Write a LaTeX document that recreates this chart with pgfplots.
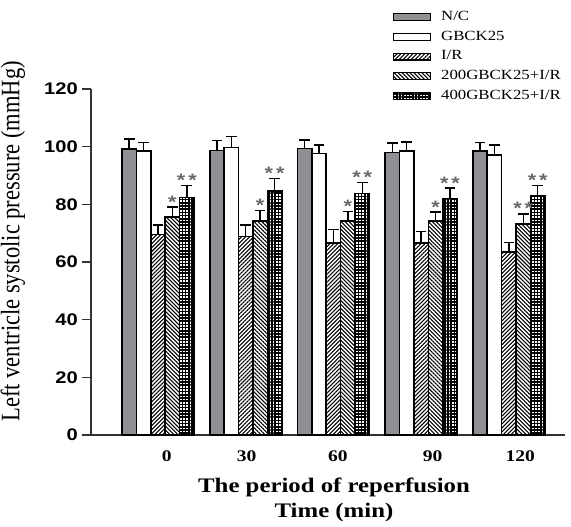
\documentclass[border=0pt]{standalone}
\usepackage{fontspec}
\setmainfont{Liberation Serif}[FakeStretch=1.2]
\newfontfamily\ticksans{Liberation Sans}[FakeStretch=1.2]
\newfontfamily\ylfont{Liberation Serif}[FakeStretch=0.845]
\usepackage{pgfplots}
\pgfplotsset{compat=1.18}
\usetikzlibrary{patterns.meta}

\definecolor{ncgray}{RGB}{143,143,148}
\definecolor{stargray}{RGB}{105,105,105}

% x y err
\pgfplotstableread{
x y err
0 99.2 3.4
1 98.7 3.4
2 99.4 2.9
3 98.0 3.2
4 98.6 2.9
}\nc
\pgfplotstableread{
x y err
0 98.5 3.0
1 99.7 3.8
2 97.6 2.9
3 98.4 3.2
4 97.1 3.4
}\gb
\pgfplotstableread{
x y err
0 69.6 3.2
1 68.8 4.0
2 66.5 4.8
3 66.5 4.0
4 63.4 3.4
}\ir
\pgfplotstableread{
x y err
0 75.7 3.3
1 74.2 3.6
2 74.3 3.3
3 74.2 3.1
4 73.2 3.5
}\gtwo
\pgfplotstableread{
x y err
0 82.4 4.1
1 84.6 4.4
2 83.8 3.8
3 82.0 3.6
4 82.8 3.7
}\gfour

\begin{document}
\begin{tikzpicture}
\path[use as bounding box] (-68.25pt,-68.25pt) rectangle (360pt,326.25pt);
\begin{axis}[
  scale only axis,
  width=355.5pt, height=259.5pt,
  at={(0,0)}, anchor=south west,
  ybar=0pt, bar width=10.8pt,
  xmin=-0.764, xmax=4.64,
  ymin=0, ymax=120,
  axis x line=bottom, axis y line=left,
  axis line style={-, line width=0.8pt, black!80},
  ytick={0,20,...,120},
  xtick={0.10,1.01,2.05,3.13,4.13},
  xticklabels={0,30,60,90,120},
  xtick style={draw=none},
  ytick style={line width=0.8pt, black!80},
  tick align=outside,
  major tick length=6.75pt,
  /pgf/number format/assume math mode=true,
  yticklabel style={font=\ticksans\bfseries\fontsize{12.6}{14}\selectfont, anchor=east, inner sep=0pt, xshift=-3pt},
  xticklabel style={font=\bfseries\fontsize{12.2}{14}\selectfont, anchor=base, inner sep=0pt, yshift=-13.1pt},
  xlabel={The period of reperfusion\\Time (min)},
  xlabel style={font=\bfseries\fontsize{15.5}{19}\selectfont, align=center,
    at={(rel axis cs:0.5,0)}, anchor=north, inner sep=0pt, yshift=-32pt, xshift=4.5pt},
  ylabel={Left ventricle systolic pressure (mmHg)},
  ylabel style={font=\ylfont\fontsize{20}{22}\selectfont,
    at={(rel axis cs:-0.1646,0.56)}, anchor=center, inner sep=0pt},
  error bars/y dir=plus, error bars/y explicit,
  error bars/error bar style={line width=1.1pt, black},
  error bars/error mark options={rotate=90, line width=1.1pt, black, mark size=4pt},
  legend image code/.code={\draw[#1, line width=0.9pt] (0pt,-2.6pt) rectangle (27.75pt,2.6pt);},
  legend style={draw=none, fill=none, inner sep=0pt, outer sep=0pt,
    at={(rel axis cs:0.637,1.227)}, anchor=north west,
    row sep=4.8pt, font=\fontsize{10.5}{12}\selectfont,
    nodes={inner sep=0pt, text height=7.5pt, text depth=2.5pt}},
  legend cell align=left,
  /tikz/every odd column/.append style={column sep=7.5pt},
  clip=false,
]
\addplot[bar shift=-21.6pt, draw=black, line width=1.2pt, fill=ncgray]
  table[x=x, y=y, y error=err] {\nc};
\addlegendentry{N/C}
\addplot[bar shift=-10.8pt, draw=black, line width=1.2pt, fill=white]
  table[x=x, y=y, y error=err] {\gb};
\addlegendentry{GBCK25}
\addplot[bar shift=0pt, draw=black, line width=1.2pt,
  pattern={Lines[angle=45, distance=2.1pt, line width=0.8pt]}]
  table[x=x, y=y, y error=err] {\ir};
\addlegendentry{I/R}
\addplot[bar shift=10.8pt, draw=black, line width=1.2pt,
  pattern={Lines[angle=-45, distance=2.1pt, line width=0.8pt]}]
  table[x=x, y=y, y error=err] {\gtwo};
\addlegendentry{200GBCK25+I/R}
\addplot[bar shift=21.6pt, draw=black, line width=1.2pt,
  pattern={Hatch[angle=0, distance=2.4pt, line width=1.1pt]}]
  table[x=x, y=y, y error=err] {\gfour};
\addlegendentry{400GBCK25+I/R}

% significance marks, placed at the top of the error bars
\addplot[forget plot, bar shift=10.8pt, draw=none, fill=none,
  nodes near coords, point meta=explicit symbolic,
  every node near coord/.append style={anchor=base, yshift=-0.75pt, inner sep=0pt,
    text=stargray, font=\ticksans\bfseries\fontsize{13.5}{14}\selectfont}]
  table[x=x, y=y, meta=s] {
x y s
0 79.0 *
1 77.8 *
2 77.6 *
3 77.3 *
4 76.7 *\,*
};
\addplot[forget plot, bar shift=21.6pt, draw=none, fill=none,
  nodes near coords, point meta=explicit symbolic,
  every node near coord/.append style={anchor=base, yshift=-0.75pt, inner sep=0pt,
    text=stargray, font=\ticksans\bfseries\fontsize{13.5}{14}\selectfont}]
  table[x=x, y=y, meta=s] {
x y s
0 86.5 *\,*
1 89.0 *\,*
2 87.6 *\,*
3 85.6 *\,*
4 86.5 *\,*
};
\end{axis}
\end{tikzpicture}
\end{document}
